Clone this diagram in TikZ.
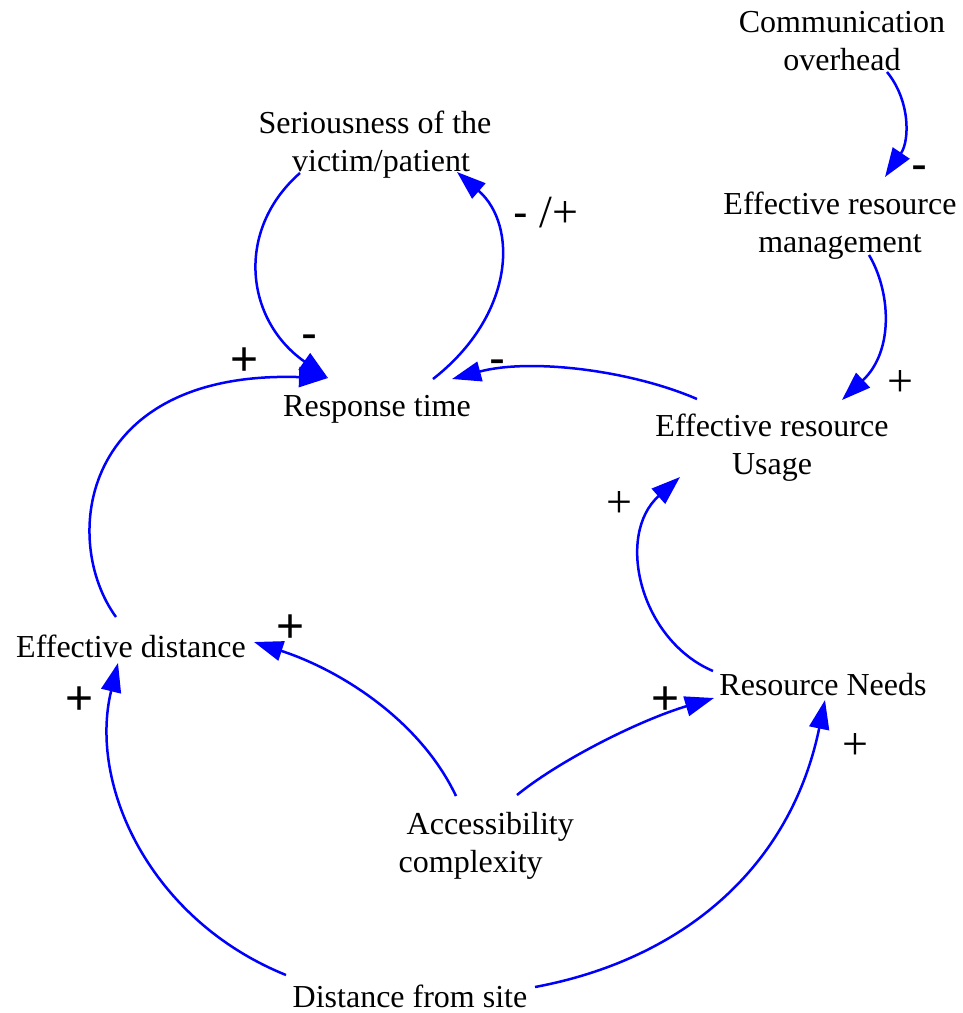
\documentclass[tikz,border=0pt]{standalone}
\usepackage{fontspec}
\setmainfont{Liberation Serif}
\newfontfamily\signfont{Liberation Sans}
\usetikzlibrary{arrows.meta,calc}
\definecolor{linkblue}{RGB}{0,0,255}
\begin{document}
\begin{tikzpicture}[x=1pt,y=-1pt,
  var/.style={inner sep=0pt,align=center,font=\fontsize{32}{38}\selectfont},
  link/.style={draw=linkblue,line width=2.5pt,-{Triangle[length=29pt,width=20pt]},fill=none},
  sgn/.style={inner sep=0pt,anchor=base,font=\signfont\fontsize{48}{56}\selectfont},
  sgnserif/.style={inner sep=0pt,anchor=base,font=\fontsize{46}{54}\selectfont}]
\useasboundingbox (0,0) rectangle (963,1013);
% variables
\node[var] (comm) at (842,41) {Communication\\overhead};
\node[var] (erm) at (840,226) {Effective resource\\management};
\node[var] (ser) at (375,145) {Seriousness of the\\\hspace*{12pt}victim/patient};
\node[var] (rt) at (377,409.5) {Response time};
\node[var] (usage) at (772,448) {Effective resource\\Usage};
\node[var] (ed) at (131,646) {Effective distance};
\node[var] (rn) at (823,685) {Resource Needs};
\node[var,align=left] (acc) at (486.25,845.5) {\hspace*{8pt}Accessibility\\complexity};
\node[var] (dist) at (410,996) {Distance from site};
% links
\draw[link] ($(ser)+(-75,28)$) .. controls +(-65,57) and +(-83,-58) .. ($(rt)+(-49,-31.5)$);
\draw[link] ($(rt)+(56,-30.5)$) .. controls +(82,-64) and +(61,53) .. ($(ser)+(82,27)$);
\draw[link] ($(usage)+(-75,-49)$) .. controls +(-67,-29) and +(78,-21) .. ($(rt)+(75,-30.5)$);
\draw[link] ($(ed)+(-15,-29)$) .. controls +(-56,-77) and +(-248,-8) .. ($(rt)+(-49,-31.5)$);
\draw[link] ($(comm)+(45,31)$) .. controls +(23,28) and +(25,-37) .. ($(erm)+(45,-49)$);
\draw[link] ($(erm)+(29,29)$) .. controls +(21,35) and +(53,-50) .. ($(usage)+(70,-48)$);
\draw[link] ($(rn)+(-110,-14)$) .. controls +(-73,-31) and +(-65,58) .. ($(usage)+(-92,29)$);
\draw[link] ($(acc)+(-30.25,-49.5)$) .. controls +(-36,-76) and +(86,28) .. ($(ed)+(123,-4)$);
\draw[link] ($(acc)+(30.75,-50.5)$) .. controls +(43,-35) and +(-74,22) .. ($(rn)+(-109,13)$);
\draw[link] ($(dist)+(-124,-21)$) .. controls +(-136,-55) and +(-30,122) .. ($(ed)+(-13,17)$);
\draw[link] ($(dist)+(125,-9)$) .. controls +(145,-27) and +(-35,170) .. ($(rn)+(2,15)$);
% polarity signs
\node[sgn] (s1) at (309,349.5) {-};
\node[sgnserif] (s2) at (546,227) {{\signfont\fontsize{44}{52}\selectfont -} /+};
\node[sgn] (s3) at (245,375.7) {+};
\node[sgn] (s4) at (497,374.5) {-};
\node[sgn] (s5) at (919,180.5) {-};
\node[sgnserif] (s6) at (900.5,396.5) {+};
\node[sgnserif] (s7) at (619,517.5) {+};
\node[sgn] (s8) at (291,642.7) {+};
\node[sgn] (s9) at (80,714.7) {+};
\node[sgn] (s10) at (666,714.7) {+};
\node[sgnserif] (s11) at (855,759.5) {+};
\end{tikzpicture}
\end{document}
